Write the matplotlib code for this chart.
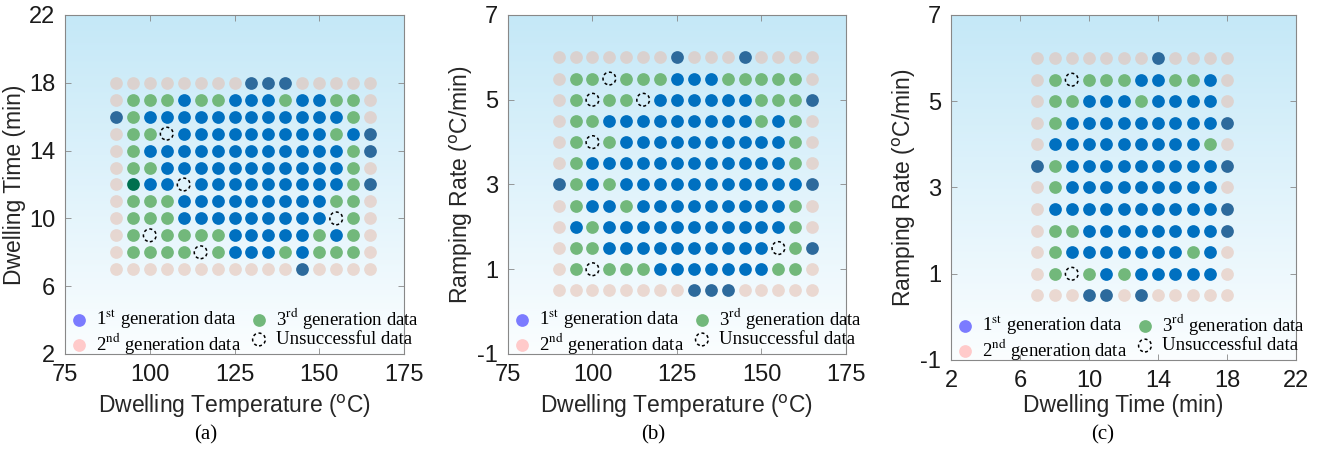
import numpy as np
import matplotlib
matplotlib.use('Agg')
import matplotlib.pyplot as plt

plt.rcParams['font.family'] = ['Liberation Sans', 'DejaVu Sans']
plt.rcParams['axes.unicode_minus'] = False

# grid axes values
temp = [90, 95, 100, 105, 110, 115, 120, 125, 130, 135, 140, 145, 150, 155, 160, 165]
dwell = [7, 8, 9, 10, 11, 12, 13, 14, 15, 16, 17, 18]
ramp = [0.5, 1.0, 1.5, 2.0, 2.5, 3.0, 3.5, 4.0, 4.5, 5.0, 5.5, 6.0]

# status of each grid point, rows from top (largest y) to bottom
# P: 2nd gen, D: 1st gen (dark), B: blue, G: 3rd gen, T: teal, U: unsuccessful
grid_a = [
    "PPPPPPPPDDDPPPPP",
    "PGGGBGGBBBGBBGGP",
    "DGBBBBBBBBBBBBGP",
    "PGGUBBBBBBBBBGBD",
    "PGBBBBBBBBBBBBGD",
    "PGGBBBBBBBBBBBGP",
    "PTBBUBBBBBBBBBGD",
    "PGGGBBBBBBBBBGGP",
    "PGGGBBBBBBBBBUGP",
    "PGUGGGGBBBBBGBGP",
    "PGGGGUGBBBGBGGGP",
    "PPPPPPPPPPPDPPPP",
]
grid_b = [
    "PPPPPPPDPPPDPPPP",
    "PGGUGGGBBBGGGGGP",
    "PGUGGUBBBBBBGGGD",
    "PGGBBBBBBBBBGBGP",
    "PGUGBBBBBBBBBBGP",
    "PGBBBBBBBBBBBBGP",
    "DGBGBBBBBBBBBBBD",
    "PGBBGBBBBBBBBBGP",
    "PBGBBBBBBBBBBBGP",
    "PGGBBBBBBBBBBUGD",
    "PGUGGGBBBBBBBGGP",
    "PPPPPPPPDDDPPPPP",
]
grid_c = [
    "PPPPPPPDPPPP",
    "PGUGGGBBGGBP",
    "PGGBBBGBBBBP",
    "PGBBBBBBBBBD",
    "PBBBBBBBBBGP",
    "DGBBBBBBBBBD",
    "PGBBBBBBBBBP",
    "PBBBBBBBBBBD",
    "PGGBBBBBBBBD",
    "PGBBBBBBBGBP",
    "PGUGBGBBBBBP",
    "PPPDDPDPPPPP",
]

colors = {'P': (0.90, 0.75, 0.69, 0.56), 'D': '#2d6a9c', 'B': '#0070c0',
          'G': '#72b87b', 'T': '#00704f'}
legend_labels = ['1$^{\\mathrm{st}}$ generation data', '2$^{\\mathrm{nd}}$ generation data',
                 '3$^{\\mathrm{rd}}$ generation data', 'Unsuccessful data']

S = 84


def draw_panel(ax, xs, ys, grid):
    grad = np.linspace(0, 1, 256)[:, None]
    top = np.array([0.77, 0.91, 0.97])
    bot = np.array([0.985, 0.995, 1.0])
    img = top[None, None, :] * (1 - grad[:, :, None]) + bot[None, None, :] * grad[:, :, None]
    ax.imshow(img, extent=[0, 1, 0, 1], transform=ax.transAxes, aspect='auto', zorder=0)
    rows = grid[::-1]
    for code in 'PDBGTU':
        px, py = [], []
        for j, row in enumerate(rows):
            for i, c in enumerate(row):
                if c == code:
                    px.append(xs[i])
                    py.append(ys[j])
        if code == 'U':
            ax.scatter(px, py, s=S, facecolors='none', edgecolors='k',
                       linewidths=1.1, linestyles=(0, (2, 1.8)), zorder=3)
        else:
            ax.scatter(px, py, s=S, color=colors[code], linewidths=0, zorder=2)

    h1 = ax.scatter([], [], s=S, color='#7b7bff', linewidths=0)
    h2 = ax.scatter([], [], s=S, color='#ffcaca', linewidths=0)
    h3 = ax.scatter([], [], s=S, color='#72b87b', linewidths=0)
    h4 = ax.scatter([], [], s=S, facecolors='none', edgecolors='k',
                    linewidths=1.1, linestyles=(0, (2, 1.8)))
    ax.legend([h1, h2, h3, h4], legend_labels, ncol=2, loc='lower left',
              bbox_to_anchor=(0.0, -0.015), frameon=False, borderaxespad=0.0,
              borderpad=0.15, handletextpad=0.3, columnspacing=0.35,
              labelspacing=0.0, handlelength=1.2,
              prop={'family': 'Liberation Serif', 'size': 13.5, 'math_fontfamily': 'stix'})

    ax.tick_params(direction='in', top=True, right=True, length=4, width=0.6,
                   color='#888888', labelsize=17, labelcolor='#1a1a1a', pad=7)
    for sp in ax.spines.values():
        sp.set_color('#888888')
        sp.set_linewidth(0.8)


fig = plt.figure(figsize=(13.19, 4.51), dpi=100)
lab_kw = dict(fontsize=16.5, color='#262626')

ax = fig.add_axes([0.0493, 0.2151, 0.257, 0.7517])
draw_panel(ax, temp, dwell, grid_a)
ax.set_xlim(75, 175)
ax.set_ylim(2, 22)
ax.set_xticks([75, 100, 125, 150, 175])
ax.set_yticks([2, 6, 10, 14, 18, 22])
ax.set_xlabel('Dwelling Temperature ($^{\\mathrm{o}}$C)', labelpad=5, **lab_kw)
ax.set_ylabel('Dwelling Time (min)', labelpad=2, **lab_kw)

ax = fig.add_axes([0.3851, 0.2151, 0.2563, 0.7517])
draw_panel(ax, temp, ramp, grid_b)
ax.set_xlim(75, 175)
ax.set_ylim(-1, 7)
ax.set_xticks([75, 100, 125, 150, 175])
ax.set_yticks([-1, 1, 3, 5, 7])
ax.set_xlabel('Dwelling Temperature ($^{\\mathrm{o}}$C)', labelpad=5, **lab_kw)
ax.set_ylabel('Ramping Rate ($^{\\mathrm{o}}$C/min)', labelpad=2, **lab_kw)

ax = fig.add_axes([0.721, 0.2018, 0.2616, 0.765])
draw_panel(ax, dwell, ramp, grid_c)
ax.set_xlim(2, 22)
ax.set_ylim(-1, 7)
ax.set_xticks([2, 6, 10, 14, 18, 22])
ax.set_yticks([-1, 1, 3, 5, 7])
ax.set_xlabel('Dwelling Time (min)', labelpad=2, **lab_kw)
ax.set_ylabel('Ramping Rate ($^{\\mathrm{o}}$C/min)', labelpad=2, **lab_kw)

for x, lab in [(206, '(a)'), (653, '(b)'), (1103, '(c)')]:
    fig.text(x / 1319, 0.035, lab, ha='center', va='center', fontsize=15,
             family='Liberation Serif')

fig.savefig('out.png', dpi=100)
